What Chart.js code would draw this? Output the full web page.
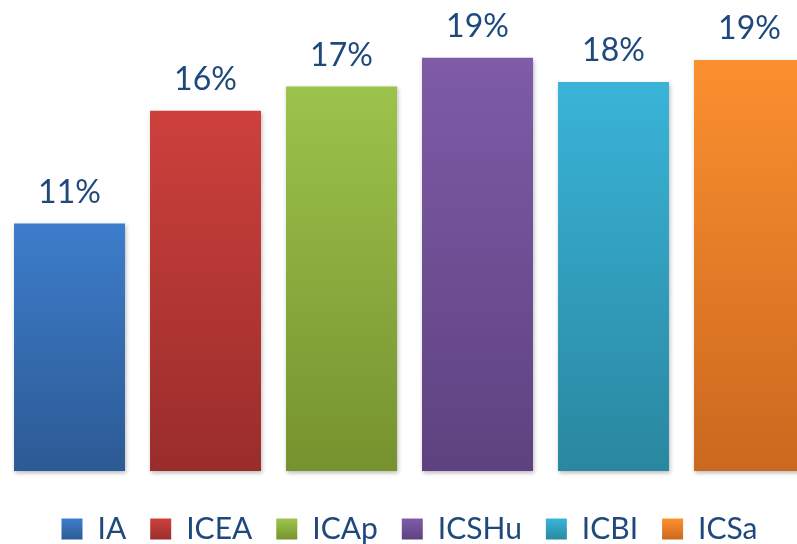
<!DOCTYPE html>
<html>
<head>
<meta charset="utf-8">
<script src="https://cdn.jsdelivr.net/npm/chart.js@4"></script>
<style>
  body { margin: 0; overflow: hidden; background: #fff; }
</style>
</head>
<body>
<canvas id="groupChart" width="820" height="554"></canvas>
<script>
var groups = ['IA', 'ICEA', 'ICAp', 'ICSHu', 'ICBI', 'ICSa'];
var shares = [11.2, 16.3, 17.4, 18.7, 17.6, 18.6];
var shareLabels = ['11%', '16%', '17%', '19%', '18%', '19%'];
var topColors = ['#3d7dcb', '#cd403c', '#9cc34b', '#7f5ba8', '#39b4d8', '#fb902f'];
var bottomColors = ['#2c5a94', '#992d2b', '#76922f', '#5d427f', '#2a87a0', '#cb681f'];

document.addEventListener("DOMContentLoaded", function() {
    var ctx = document.getElementById('groupChart').getContext('2d');

    function barGradient(i) {
        return function(context) {
            var chart = context.chart;
            if (!chart.chartArea) return topColors[i];
            var y = chart.scales.y;
            var top = y.getPixelForValue(shares[i]);
            var base = y.getPixelForValue(0);
            var g = chart.ctx.createLinearGradient(0, top, 0, base);
            g.addColorStop(0, topColors[i]);
            g.addColorStop(1, bottomColors[i]);
            return g;
        };
    }

    function boxGradient(i) {
        var g = ctx.createLinearGradient(0, 519, 0, 540);
        g.addColorStop(0, topColors[i]);
        g.addColorStop(1, bottomColors[i]);
        return g;
    }

    // soft shadow under the bars
    var barShadow = {
        id: 'barShadow',
        beforeDatasetsDraw: function(chart) {
            var c = chart.ctx;
            c.save();
            c.shadowColor = 'rgba(0,0,0,0.28)';
            c.shadowBlur = 4;
            c.shadowOffsetX = 1;
            c.shadowOffsetY = 2;
        },
        afterDatasetsDraw: function(chart) {
            chart.ctx.restore();
        }
    };

    var valueLabels = {
        id: 'valueLabels',
        afterDatasetsDraw: function(chart) {
            var c = chart.ctx;
            c.save();
            c.font = '32px Lato';
            c.fillStyle = '#1f497d';
            c.textAlign = 'center';
            c.textBaseline = 'bottom';
            chart.data.datasets.forEach(function(ds, i) {
                var bar = chart.getDatasetMeta(i).data[0];
                c.fillText(shareLabels[i], bar.x, bar.y - 15);
            });
            c.restore();
        }
    };

    var datasets = groups.map(function(name, i) {
        return {
            label: name,
            data: [shares[i]],
            backgroundColor: barGradient(i),
            borderWidth: 0
        };
    });

    new Chart(ctx, {
        type: 'bar',
        data: {
            labels: [''],
            datasets: datasets
        },
        options: {
            responsive: false,
            animation: false,
            events: [],
            layout: {
                padding: { left: 1.5, right: 2.5, top: 29, bottom: 0 }
            },
            datasets: {
                bar: {
                    categoryPercentage: 1,
                    barPercentage: 0.816
                }
            },
            plugins: {
                legend: {
                    position: 'bottom',
                    labels: {
                        font: { family: 'Lato', size: 30 },
                        color: '#1f497d',
                        boxWidth: 21,
                        boxHeight: 21,
                        padding: 24,
                        generateLabels: function(chart) {
                            return groups.map(function(name, i) {
                                return {
                                    text: name,
                                    fillStyle: boxGradient(i),
                                    strokeStyle: 'rgba(0,0,0,0)',
                                    lineWidth: 0,
                                    datasetIndex: i,
                                    fontColor: '#1f497d'
                                };
                            });
                        }
                    }
                },
                tooltip: { enabled: false }
            },
            scales: {
                x: { display: false },
                y: { display: false, min: -0.86, max: 20 }
            }
        },
        plugins: [barShadow, valueLabels]
    });
});
</script>
</body>
</html>
